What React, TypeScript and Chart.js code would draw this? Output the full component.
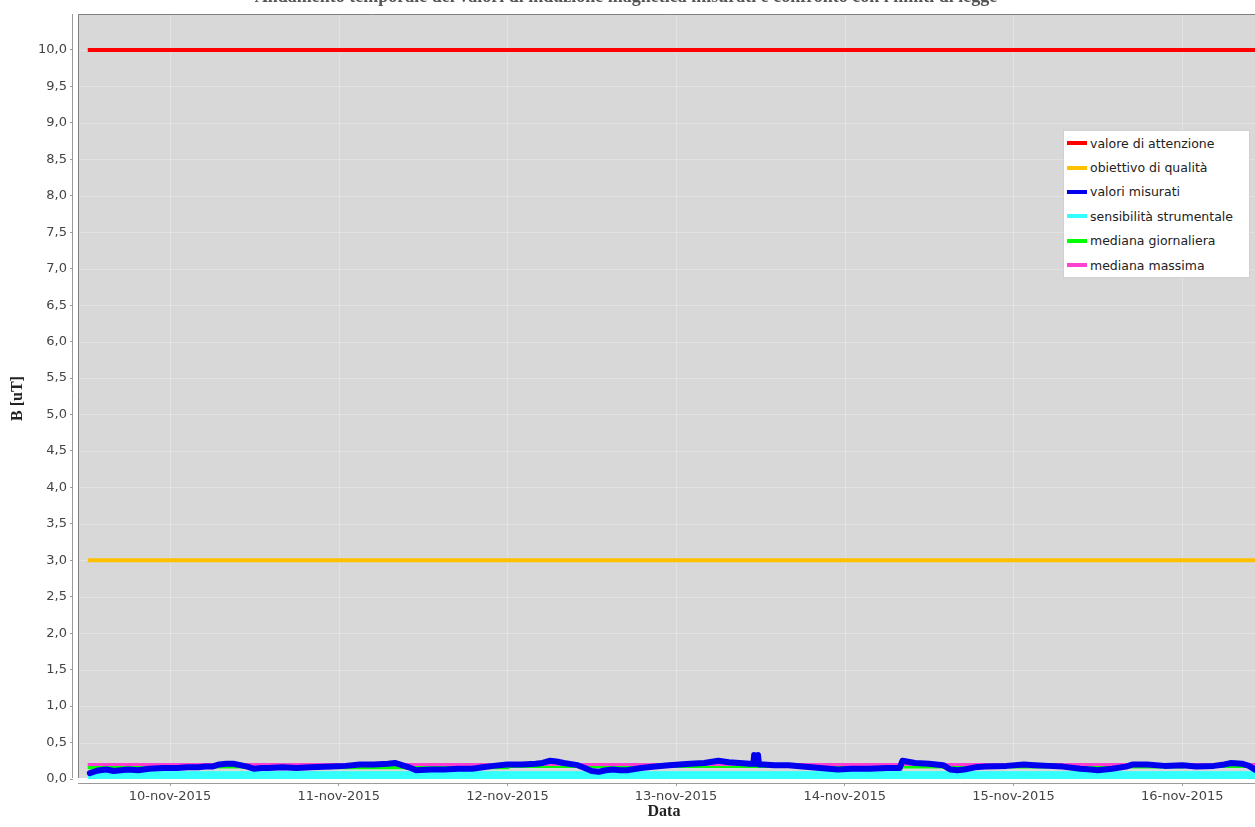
import React, { useEffect, useRef } from 'react';
import { Chart, registerables } from 'chart.js';

Chart.register(...registerables);

// ---- texts ----
const chartTitle = "Andamento temporale dei valori di induzione magnetica misurati e confronto con i limiti di legge";
const xAxisTitle = "Data";
const yAxisTitle = "B [uT]";

// ---- x axis: hours since 10-nov-2015 00:00 ----
const dayTickHours = [0, 24, 48, 72, 96, 120, 144];
const dayTickLabels = ["10-nov-2015", "11-nov-2015", "12-nov-2015", "13-nov-2015", "14-nov-2015", "15-nov-2015", "16-nov-2015"];

// ---- y axis ticks ----
const yTickValues = [0, 0.5, 1, 1.5, 2, 2.5, 3, 3.5, 4, 4.5, 5, 5.5, 6, 6.5, 7, 7.5, 8, 8.5, 9, 9.5, 10];

// ---- series ----
const seriesExtentHours = [-11.7, 156];
const attentionValue = 10.0;
const qualityValue = 3.0;
const sensitivityValue = 0.1;
const maxMedianValue = 0.2;

const dailyMedianHours = [-11.7, 0, 24, 48, 72, 96, 120, 144, 156];
const dailyMedianValues = [0.16, 0.17, 0.16, 0.18, 0.18, 0.17, 0.17, 0.18, 0.18];

const measuredHours = [
  -11.4, -10.5, -10, -9, -8, -7, -6, -4.5, -3, -1, 1, 2.5, 4, 5, 6, 7, 8, 9, 10, 11,
  12, 13, 14, 16, 18, 20, 23, 25, 27, 29, 31, 32, 33, 34, 35, 37, 39, 41, 43, 44.5,
  46, 48, 50, 52, 53, 54, 55, 56, 58, 59, 60, 61, 62, 63, 64, 65, 67, 69, 71, 72.5,
  74, 76, 78, 79.5, 81, 82.5, 83.0, 83.1, 83.25, 83.55, 83.65, 83.8, 84.4, 86, 88, 90, 92.5, 95, 97, 99.5,
  102, 103.8, 104.2, 106, 108, 110, 111, 112, 113, 114.5, 116, 119, 121.5, 123, 125, 127, 129.5, 131, 132, 134,
  136, 137, 139, 141.5, 144, 146, 148.5, 150, 151, 152.5, 153.5, 154.5, 156
];
const measuredValues = [
  0.08, 0.11, 0.12, 0.13, 0.11, 0.12, 0.13, 0.12, 0.14, 0.15, 0.15, 0.16, 0.16, 0.17, 0.17, 0.20, 0.21, 0.21, 0.19, 0.17,
  0.14, 0.15, 0.15, 0.16, 0.15, 0.16, 0.17, 0.18, 0.20, 0.20, 0.21, 0.22, 0.19, 0.16, 0.12, 0.13, 0.13, 0.14, 0.14, 0.16,
  0.18, 0.20, 0.20, 0.21, 0.22, 0.25, 0.24, 0.22, 0.19, 0.15, 0.11, 0.10, 0.12, 0.13, 0.12, 0.12, 0.15, 0.17, 0.19, 0.20,
  0.21, 0.22, 0.25, 0.23, 0.22, 0.21, 0.21, 0.33, 0.21, 0.21, 0.33, 0.20, 0.20, 0.19, 0.19, 0.17, 0.15, 0.13, 0.14, 0.14,
  0.15, 0.15, 0.25, 0.22, 0.21, 0.19, 0.13, 0.12, 0.13, 0.16, 0.17, 0.18, 0.20, 0.19, 0.18, 0.17, 0.14, 0.13, 0.12, 0.14,
  0.17, 0.20, 0.20, 0.18, 0.19, 0.17, 0.18, 0.20, 0.22, 0.21, 0.18, 0.12, 0.12
];

const seriesLabels = {
  attention: "valore di attenzione",
  quality: "obiettivo di qualità",
  measured: "valori misurati",
  sensitivity: "sensibilità strumentale",
  dailyMedian: "mediana giornaliera",
  maxMedian: "mediana massima",
};
const seriesColors = {
  attention: "#FF0000",
  quality: "#FFC000",
  measured: "#0000EE",
  sensitivity: "#33FFFF",
  dailyMedian: "#00FF00",
  maxMedian: "#FF40D0",
};
const legendOrder = ["attention", "quality", "measured", "sensitivity", "dailyMedian", "maxMedian"];

// ---- layout constants ----
const SHIFT = 24; // canvas starts above the viewport (title cut off)
const PLOT_TOP = 14;
const AXIS_BOTTOM = 783;
const ZERO_Y = 779;
const PX_PER_UNIT = 72.9;
const CHART_LEFT = 73;
const TICK0_X = 170;
const PX_PER_HOUR = 168.7 / 24;
const PAGE_W = 1255;

const yMax = (ZERO_Y - PLOT_TOP) / PX_PER_UNIT;
const yMin = -(AXIS_BOTTOM - ZERO_Y) / PX_PER_UNIT;
const xMin = -(TICK0_X - CHART_LEFT) / PX_PER_HOUR;
const xMax = (PAGE_W - TICK0_X) / PX_PER_HOUR;

const constLine = (v: number) => seriesExtentHours.map((h) => ({ x: h, y: v }));
const pairs = (xs: number[], ys: number[]) => xs.map((x, i) => ({ x, y: ys[i] }));

const plotFrame = {
  id: 'plotFrame',
  beforeDraw(chart: any) {
    const { ctx, chartArea: a, scales } = chart;
    const left = a.left + 5;
    const bottom = a.bottom - 5;
    const top = a.top;
    const right = a.right;
    ctx.save();
    ctx.fillStyle = '#ffffff';
    ctx.fillRect(0, 0, chart.width, chart.height);
    ctx.fillStyle = '#D8D8D8';
    ctx.fillRect(left, top, right - left, bottom - top);
    // grid
    ctx.strokeStyle = 'rgba(255,255,255,0.25)';
    ctx.lineWidth = 1;
    yTickValues.forEach((v) => {
      const y = Math.round(scales.y.getPixelForValue(v)) + 0.5;
      if (y > top && y < bottom) {
        ctx.beginPath(); ctx.moveTo(left, y); ctx.lineTo(right, y); ctx.stroke();
      }
    });
    dayTickHours.forEach((h) => {
      const x = Math.round(scales.x.getPixelForValue(h)) + 0.5;
      ctx.beginPath(); ctx.moveTo(x, top); ctx.lineTo(x, bottom); ctx.stroke();
    });
    // plot border
    ctx.strokeStyle = '#808080';
    ctx.beginPath();
    ctx.moveTo(left + 0.5, bottom); ctx.lineTo(left + 0.5, top + 0.5); ctx.lineTo(right, top + 0.5);
    ctx.stroke();
    // axis lines
    ctx.strokeStyle = '#9a9a9a';
    ctx.beginPath(); ctx.moveTo(a.left - 0.5, top); ctx.lineTo(a.left - 0.5, bottom); ctx.stroke();
    ctx.beginPath(); ctx.moveTo(left, a.bottom + 0.5); ctx.lineTo(right, a.bottom + 0.5); ctx.stroke();
    // title (mostly above the visible page)
    ctx.fillStyle = '#555555';
    ctx.font = 'bold 18px "Liberation Serif", "DejaVu Serif", serif';
    ctx.textAlign = 'center';
    ctx.textBaseline = 'alphabetic';
    ctx.fillText(chartTitle, 626, SHIFT + 2);
    ctx.restore();
  },
};

export default function App() {
  const canvasRef = useRef<HTMLCanvasElement | null>(null);

  useEffect(() => {
    document.body.style.margin = '0';
    document.documentElement.style.overflow = 'hidden';
    document.body.style.overflow = 'hidden';
    const canvas = canvasRef.current;
    if (!canvas) return;

    const tickFont = { family: '"DejaVu Sans", sans-serif', size: 13 };
    const titleFont = { family: '"Liberation Serif", "DejaVu Serif", serif', size: 16, weight: 'bold' as const };

    // datasets listed top-most first (Chart.js draws index 0 last)
    const chart = new Chart(canvas, {
      type: 'line',
      data: {
        datasets: [
          {
            label: seriesLabels.attention,
            data: constLine(attentionValue),
            borderColor: seriesColors.attention,
            borderWidth: 4,
            pointRadius: 0,
            fill: false,
          },
          {
            label: seriesLabels.quality,
            data: constLine(qualityValue),
            borderColor: seriesColors.quality,
            borderWidth: 4,
            pointRadius: 0,
            fill: false,
          },
          {
            label: seriesLabels.measured,
            data: pairs(measuredHours, measuredValues),
            borderColor: seriesColors.measured,
            borderWidth: 6,
            pointRadius: 0,
            fill: false,
            borderJoinStyle: 'round',
            borderCapStyle: 'round',
          },
          {
            label: seriesLabels.maxMedian,
            data: constLine(maxMedianValue),
            borderColor: seriesColors.maxMedian,
            borderWidth: 3,
            pointRadius: 0,
            fill: false,
          },
          {
            label: seriesLabels.dailyMedian,
            data: pairs(dailyMedianHours, dailyMedianValues),
            borderColor: seriesColors.dailyMedian,
            borderWidth: 4,
            stepped: true,
            pointRadius: 0,
            fill: false,
          },
          {
            label: seriesLabels.sensitivity,
            data: constLine(sensitivityValue),
            borderColor: seriesColors.sensitivity,
            backgroundColor: seriesColors.sensitivity,
            borderWidth: 1,
            fill: 'origin',
            pointRadius: 0,
          },
        ],
      },
      options: {
        animation: false,
        responsive: true,
        maintainAspectRatio: false,
        layout: { padding: { top: SHIFT + PLOT_TOP, left: 0, right: 0, bottom: 0 } },
        plugins: { legend: { display: false }, tooltip: { enabled: false }, title: { display: false } },
        scales: {
          x: {
            type: 'linear',
            min: xMin,
            max: xMax,
            afterBuildTicks: (scale: any) => { scale.ticks = dayTickHours.map((v) => ({ value: v })); },
            afterFit: (scale: any) => { scale.height = 851 - (SHIFT + AXIS_BOTTOM); },
            ticks: {
              autoSkip: false,
              maxRotation: 0,
              padding: 3,
              color: '#444444',
              font: tickFont,
              callback: (v: any) => {
                const i = dayTickHours.indexOf(Number(v));
                return i >= 0 ? dayTickLabels[i] : '';
              },
            },
            grid: { drawOnChartArea: false, drawTicks: true, tickLength: 3, color: '#9a9a9a' },
            border: { display: false },
            title: { display: true, text: xAxisTitle, color: '#222222', font: titleFont, padding: { top: 0, bottom: 6 } },
          },
          y: {
            type: 'linear',
            min: yMin,
            max: yMax,
            afterBuildTicks: (scale: any) => { scale.ticks = yTickValues.map((v) => ({ value: v })); },
            afterFit: (scale: any) => { scale.width = CHART_LEFT; },
            ticks: {
              autoSkip: false,
              padding: 3,
              color: '#444444',
              font: tickFont,
              callback: (v: any) => Number(v).toFixed(1).replace('.', ','),
            },
            grid: { drawOnChartArea: false, drawTicks: true, tickLength: 3, color: '#9a9a9a' },
            border: { display: false },
            title: { display: true, text: yAxisTitle, color: '#222222', font: titleFont, padding: { top: 8, bottom: 0 } },
          },
        },
      },
      plugins: [plotFrame],
    } as any);

    return () => { chart.destroy(); };
  }, []);

  return (
    <div style={{ position: 'relative', width: PAGE_W, height: 851, marginTop: -SHIFT }}>
      <canvas ref={canvasRef} />
      <div
        style={{
          position: 'absolute',
          left: 1063,
          top: SHIFT + 130,
          width: 187,
          height: 148,
          background: '#ffffff',
          border: '1px solid #d0d0d0',
          boxSizing: 'border-box',
          fontFamily: '"DejaVu Sans", sans-serif',
          fontSize: 12.5,
          color: '#222222',
        }}
      >
        {legendOrder.map((k) => (
          <div key={k} style={{ display: 'flex', alignItems: 'center', height: 24.4, whiteSpace: 'nowrap' }}>
            <span style={{ display: 'inline-block', width: 20, height: 4, background: (seriesColors as any)[k], marginLeft: 3, marginRight: 3 }} />
            <span>{(seriesLabels as any)[k]}</span>
          </div>
        ))}
      </div>
    </div>
  );
}
